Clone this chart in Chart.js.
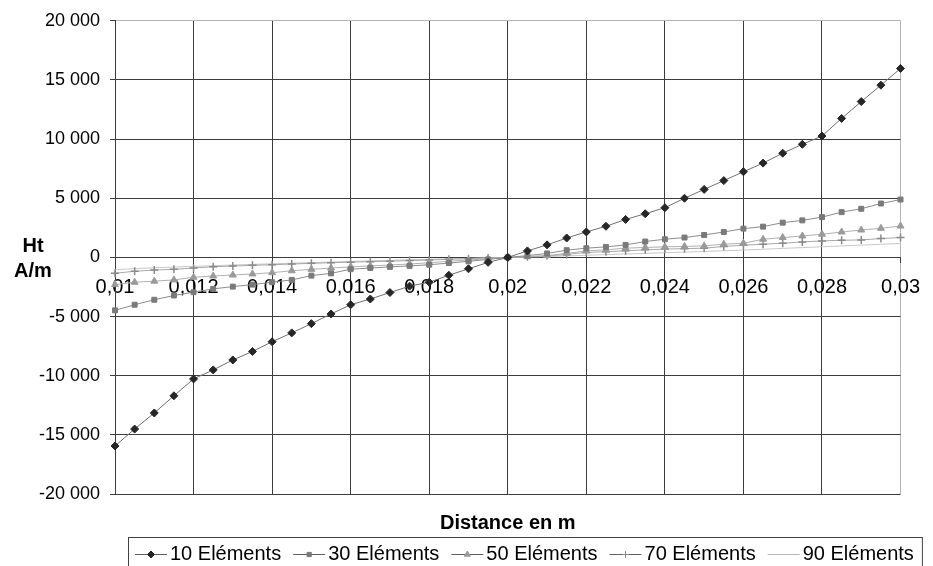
<!DOCTYPE html>
<html>
<head>
<meta charset="utf-8">
<script src="https://cdn.jsdelivr.net/npm/chart.js@4/dist/chart.umd.min.js"></script>
<style>
  body { margin: 0; background: #fff; }
  canvas { display: block; }
</style>
</head>
<body>
<canvas id="myChart" width="933" height="566"></canvas>
<script>
const distances = [
  0.01, 0.0105, 0.011, 0.0115, 0.012, 0.0125, 0.013, 0.0135, 0.014, 0.0145,
  0.015, 0.0155, 0.016, 0.0165, 0.017, 0.0175, 0.018, 0.0185, 0.019, 0.0195,
  0.02,
  0.0205, 0.021, 0.0215, 0.022, 0.0225, 0.023, 0.0235, 0.024, 0.0245, 0.025,
  0.0255, 0.026, 0.0265, 0.027, 0.0275, 0.028, 0.0285, 0.029, 0.0295, 0.03
];

const ht10 = [
  -15940, -14510, -13150, -11700, -10270, -9510, -8670, -7950, -7130, -6380,
  -5600, -4780, -4000, -3520, -2970, -2430, -2100, -1510, -960, -420,
  0,
  550, 1060, 1640, 2150, 2630, 3210, 3690, 4200, 5000, 5750,
  6490, 7240, 7970, 8810, 9560, 10260, 11750, 13170, 14560, 15970
];
const ht30 = [
  -4480, -4000, -3580, -3220, -2940, -2660, -2470, -2300, -2100, -1900,
  -1540, -1350, -1000, -900, -800, -720, -620, -480, -330, -170,
  0,
  150, 335, 612, 780, 890, 1057, 1342, 1535, 1678, 1896,
  2148, 2433, 2600, 2936, 3129, 3406, 3826, 4110, 4555, 4890
];
const ht50 = [
  -2300, -2100, -2010, -1900, -1680, -1570, -1490, -1400, -1290, -1130,
  -1010, -900, -800, -720, -640, -560, -450, -330, -220, -110,
  0,
  60, 150, 340, 553, 640, 780, 840, 890, 930, 973,
  1116, 1200, 1535, 1678, 1812, 1955, 2148, 2315, 2458, 2651
];
const ht70 = [
  -1340, -1175, -1065, -1007, -898, -790, -730, -670, -620, -560,
  -500, -450, -400, -360, -320, -270, -220, -160, -110, -50,
  0,
  60, 130, 250, 420, 480, 560, 640, 700, 740, 780,
  923, 1032, 1116, 1200, 1309, 1393, 1451, 1477, 1594, 1678
];
const ht90 = [
  -1050, -950, -880, -820, -760, -700, -640, -590, -540, -490,
  -440, -390, -340, -290, -250, -200, -160, -120, -80, -40,
  0,
  40, 80, 130, 180, 240, 290, 340, 400, 450, 500,
  560, 620, 690, 760, 830, 900, 970, 1040, 1110, 1180
];

const seriesNames = ["10 Eléments", "30 Eléments", "50 Eléments", "70 Eléments", "90 Eléments"];
const yTicks = [-20000, -15000, -10000, -5000, 0, 5000, 10000, 15000, 20000];

const FONT = "Liberation Sans, Arial, sans-serif";

const toPoints = (vals) => vals.map((v, i) => ({ x: distances[i], y: v }));

const styles = [
  { line: "#707070", mark: "#262626", shape: "rectRot", r: 4 },
  { line: "#8c8c8c", mark: "#7a7a7a", shape: "rect", r: 3.5 },
  { line: "#b0b0b0", mark: "#9a9a9a", shape: "triangle", r: 4 },
  { line: "#a8a8a8", mark: "#8a8a8a", shape: "cross", r: 4 },
  { line: "#c8c8c8", mark: "#c8c8c8", shape: false, r: 0 },
];

const allSeries = [ht10, ht30, ht50, ht70, ht90];

const datasets = allSeries.map((vals, i) => ({
  label: seriesNames[i],
  data: toPoints(vals),
  borderColor: styles[i].line,
  borderWidth: 1,
  pointStyle: styles[i].shape,
  pointRadius: styles[i].r,
  pointBackgroundColor: styles[i].mark,
  pointBorderColor: styles[i].mark,
  pointBorderWidth: styles[i].shape === "cross" ? 1.5 : 1,
  fill: false,
  tension: 0,
  clip: false,
}));

const fmtThousands = (v) => {
  const s = String(Math.abs(v)).replace(/\B(?=(\d{3})+(?!\d))/g, " ");
  return (v < 0 ? "-" : "") + s;
};

const near = (a, b) => Math.abs(a - b) < 1e-9;

// texts outside the plot: axis titles and the boxed legend
const extras = {
  id: "extras",
  afterDraw(chart) {
    const ctx = chart.ctx;
    ctx.save();
    ctx.fillStyle = "#000";
    ctx.font = "bold 20px " + FONT;
    ctx.textAlign = "center";
    ctx.textBaseline = "middle";
    ctx.fillText("Ht", 33, 246);
    ctx.fillText("A/m", 33, 271);
    const ca = chart.chartArea;
    ctx.fillText("Distance en m", (ca.left + ca.right) / 2, 523);

    // legend
    ctx.font = "20px " + FONT;
    ctx.textAlign = "left";
    const top = 537, yMid = 554;
    const left = 128;
    const gap = 12;
    let x = 135;
    let lastEnd = x;
    seriesNames.forEach((name, i) => {
      const st = styles[i];
      ctx.strokeStyle = st.shape ? "#606060" : "#b8b8b8";
      ctx.lineWidth = 1;
      ctx.beginPath();
      ctx.moveTo(x, yMid + 0.5);
      ctx.lineTo(x + 32, yMid + 0.5);
      ctx.stroke();
      if (st.shape) {
        ctx.fillStyle = st.mark;
        ctx.strokeStyle = st.mark;
        Chart.helpers.drawPoint(ctx, {
          pointStyle: st.shape,
          radius: st.r - 0.5,
          borderWidth: st.shape === "cross" ? 1.5 : 1,
          rotation: 0,
        }, x + 16, yMid + 0.5);
      }
      ctx.fillStyle = "#000";
      ctx.fillText(name, x + 35, yMid);
      lastEnd = x + 35 + ctx.measureText(name).width;
      x = lastEnd + gap;
    });
    ctx.strokeStyle = "#404040";
    ctx.lineWidth = 1;
    ctx.strokeRect(left + 0.5, top + 0.5, lastEnd + 8 - left, 40);
    ctx.restore();
  },
};

const ctx = document.getElementById("myChart").getContext("2d");
new Chart(ctx, {
  type: "line",
  data: { datasets },
  plugins: [extras],
  options: {
    responsive: false,
    animation: false,
    layout: { padding: { left: 0, right: 23, top: 20, bottom: 72 } },
    plugins: {
      legend: { display: false },
      tooltip: { enabled: false },
    },
    scales: {
      x: {
        type: "linear",
        position: { y: 0 },
        min: 0.01,
        max: 0.03,
        ticks: {
          stepSize: 0.002,
          color: "#000",
          font: { family: FONT, size: 20 },
          padding: 13,
          maxRotation: 0,
          callback: (v) => String(Math.round(v * 1000) / 1000).replace(".", ","),
        },
        grid: {
          color: (c) => (c.tick && near(c.tick.value, 0.03) ? "#b4b4b4" : "#3c3c3c"),
          tickColor: "#3c3c3c",
          tickLength: 5,
          lineWidth: 1,
        },
        border: { color: "#3c3c3c", width: 1 },
      },
      y: {
        min: -20000,
        max: 20000,
        afterBuildTicks: (scale) => {
          scale.ticks = yTicks.map((v) => ({ value: v }));
        },
        afterFit: (scale) => {
          scale.width = 115;
        },
        ticks: {
          color: "#000",
          font: { family: FONT, size: 18 },
          padding: 10,
          callback: (v) => fmtThousands(v),
        },
        grid: {
          color: (c) => (c.tick && c.tick.value === 20000 ? "#b4b4b4" : "#3c3c3c"),
          tickColor: "#3c3c3c",
          tickLength: 5,
          lineWidth: 1,
        },
        border: { color: "#3c3c3c", width: 1 },
      },
    },
  },
});
</script>
</body>
</html>
